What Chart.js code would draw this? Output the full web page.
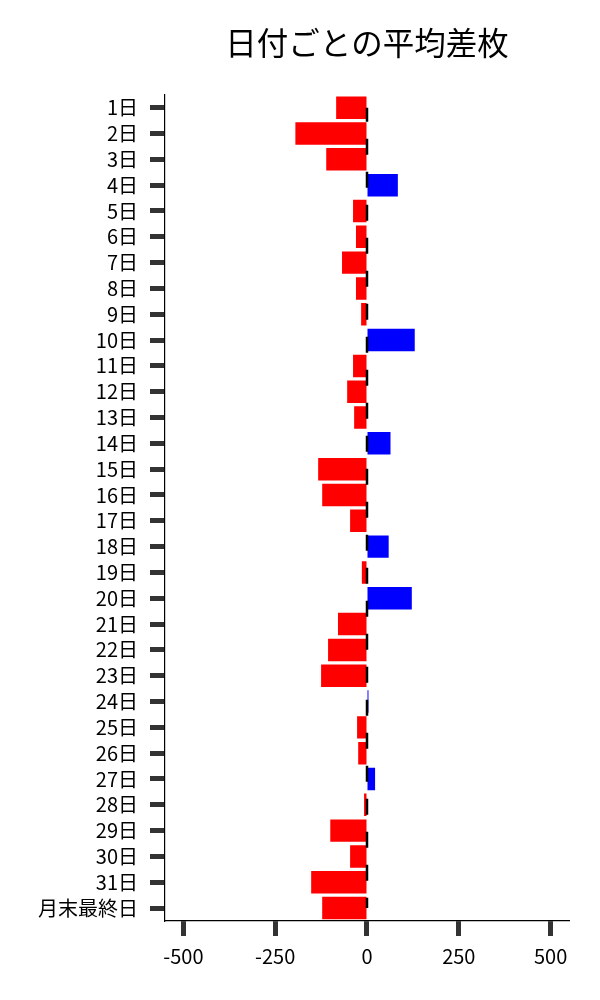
<!DOCTYPE html>
<html>
<head>
<meta charset="utf-8">
<script src="https://cdn.jsdelivr.net/npm/chart.js@4"></script>
<style>
  html, body { margin: 0; padding: 0; background: #fff; }
  #wrap { width: 600px; height: 1000px; }
</style>
</head>
<body>
<div id="wrap"><canvas id="diffChart" width="600" height="1000"></canvas></div>
<script>
const TITLE = "日付ごとの平均差枚";
const FONT = "'Noto Sans CJK JP', 'Noto Sans', sans-serif";

const days = [
  "1日", "2日", "3日", "4日", "5日", "6日", "7日", "8日", "9日", "10日",
  "11日", "12日", "13日", "14日", "15日", "16日", "17日", "18日", "19日", "20日",
  "21日", "22日", "23日", "24日", "25日", "26日", "27日", "28日", "29日", "30日",
  "31日", "月末最終日",
];
const avgDiff = [
  -84, -195, -111, 84, -38, -30, -68, -30, -16, 130,
  -38, -54, -35, 64, -133, -122, -46, 59, -14, 122,
  -79, -106, -125, 4, -27, -24, 22, -8, -100, -46,
  -152, -122,
];
const zeroLine = Array(days.length).fill(0);
const xTicks = [-500, -250, 0, 250, 500];

const ctx = document.getElementById("diffChart").getContext("2d");

new Chart(ctx, {
  type: "bar",
  data: {
    labels: days,
    datasets: [
      {
        label: "平均差枚",
        data: avgDiff,
        backgroundColor: (c) => (c.raw >= 0 ? "#0000ff" : "#ff0000"),
        borderWidth: 0,
        barPercentage: 0.87,
        categoryPercentage: 1.0,
        order: 1,
      },
      {
        label: "zero",
        type: "line",
        data: zeroLine,
        borderColor: "#000",
        borderWidth: 2.5,
        borderDash: [16, 17],
        borderDashOffset: 2,
        pointRadius: 0,
        fill: false,
        order: 0,
      },
    ],
  },
  options: {
    indexAxis: "y",
    responsive: false,
    animation: false,
    layout: {
      padding: { left: 26, right: 31, top: 0, bottom: 24 },
    },
    scales: {
      x: {
        type: "linear",
        min: -550,
        max: 550,
        afterBuildTicks: (scale) => {
          scale.ticks = xTicks.map((v) => ({ value: v }));
        },
        grid: {
          drawOnChartArea: false,
          drawTicks: true,
          tickLength: 15,
          tickWidth: 5,
          tickColor: "#333",
        },
        border: { display: true, color: "#000", width: 1.2 },
        ticks: {
          color: "#000",
          padding: 8,
          font: { family: FONT, size: 20 },
          maxRotation: 0,
        },
      },
      y: {
        grid: {
          offset: false,
          drawOnChartArea: false,
          drawTicks: true,
          tickLength: 15,
          tickWidth: 5,
          tickColor: "#333",
        },
        border: { display: true, color: "#000", width: 1.2 },
        ticks: {
          color: "#000",
          padding: 12,
          autoSkip: false,
          font: { family: FONT, size: 20 },
        },
      },
    },
    plugins: {
      legend: { display: false },
      tooltip: { enabled: false },
      title: {
        display: true,
        text: TITLE,
        color: "#000",
        fullSize: false,
        font: { family: FONT, size: 31.5, weight: "normal" },
        padding: { top: 24, bottom: 33 },
      },
    },
  },
});
</script>
</body>
</html>
